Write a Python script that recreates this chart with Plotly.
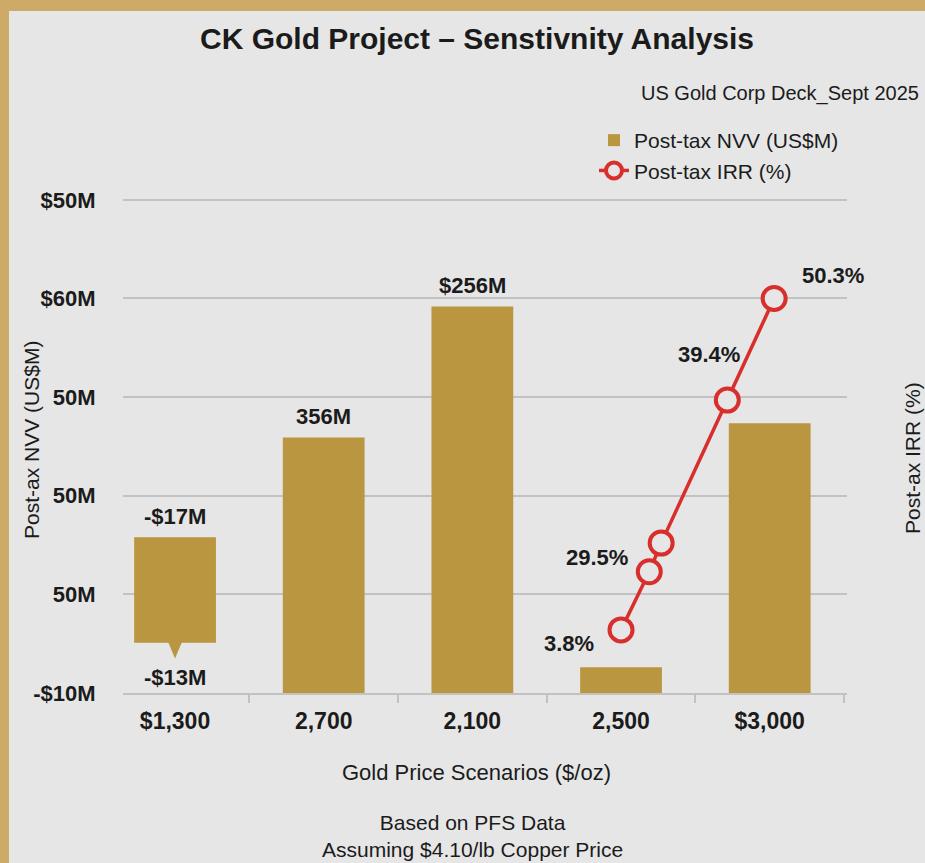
import plotly.graph_objects as go

# ---------------- data ----------------
categories = ["$1,300", "2,700", "2,100", "2,500", "$3,000"]
nvv_base = [5.1, 0.0, 0.0, 0.0, 0.0]
nvv_top = [15.8, 25.9, 39.2, 2.6, 27.35]
nvv_top_labels = ["-$17M", "356M", "$256M", "", ""]
nvv_bottom_labels = ["-$13M", "", "", "", ""]

irr_x = [3.0, 3.19, 3.27, 3.715, 4.03]
irr_y = [6.4, 12.3, 15.2, 29.7, 40.0]
irr_labels = ["3.8%", "29.5%", "", "39.4%", "50.3%"]

y_tickvals = [0, 10, 20, 30, 40, 50]
y_ticktext = ["-$10M", "50M", "50M", "50M", "$60M", "$50M"]

# ---------------- styles / layout ----------------
irr_label_offsets = [(-52, -14), (-52, 14), (0, 0), (-18, 46), (59, 23)]

GOLD_BORDER = "#CDAA67"
PANEL = "#E6E6E6"
BAR = "#B9963F"
RED = "#D82E2C"
TXT = "#1B1B1B"
GRID = "#C2C2C2"
FONT = "Liberation Sans, Arial, sans-serif"

W, H = 925, 863
L, R, T, B = 123, 78, 190, 170
PW, PH = W - L - R, H - T - B
XR = [-0.35, 4.52]
YR = [0, 51]


def px_x(px):
    return (px - L) / PW


def px_y(py):
    return (H - B - py) / PH


fig = go.Figure()

fig.add_trace(go.Bar(
    x=categories,
    y=[t - b for t, b in zip(nvv_top, nvv_base)],
    base=nvv_base,
    width=0.55,
    marker=dict(color=BAR, line=dict(width=0)),
    name="Post-tax NVV (US$M)",
    hoverinfo="skip",
))

# small callout pointer under the first (floating) bar
b0 = nvv_base[0]
fig.add_trace(go.Scatter(
    x=[-0.047, 0.047, 0.0, -0.047],
    y=[b0 + 0.1, b0 + 0.1, b0 - 1.6, b0 + 0.1],
    xaxis="x2", yaxis="y2",
    mode="lines", fill="toself", fillcolor=BAR,
    line=dict(width=0, color=BAR),
    showlegend=False, hoverinfo="skip",
))

fig.add_trace(go.Scatter(
    x=irr_x, y=irr_y,
    xaxis="x2", yaxis="y2",
    mode="lines+markers",
    line=dict(color=RED, width=3.5),
    marker=dict(symbol="circle", size=23, color=PANEL,
                line=dict(color=RED, width=4)),
    name="Post-tax IRR (%)",
    hoverinfo="skip",
))

annotations = []
for c, top, base, tl, bl in zip(categories, nvv_top, nvv_base,
                                nvv_top_labels, nvv_bottom_labels):
    if tl:
        annotations.append(dict(x=c, y=top, xref="x", yref="y", text=tl,
                                showarrow=False, xanchor="center", yanchor="middle", yshift=21,
                                font=dict(family=FONT, size=22, color=TXT, weight="bold")))
    if bl:
        annotations.append(dict(x=c, y=base, xref="x", yref="y", text=bl,
                                showarrow=False, xanchor="center", yanchor="middle", yshift=-35,
                                font=dict(family=FONT, size=22, color=TXT, weight="bold")))

for xv, yv, lab, (dx, dy) in zip(irr_x, irr_y, irr_labels, irr_label_offsets):
    if lab:
        annotations.append(dict(x=xv, y=yv, xref="x2", yref="y2", text=lab,
                                showarrow=False, xanchor="center", yanchor="middle",
                                xshift=dx, yshift=dy,
                                font=dict(family=FONT, size=22, color=TXT, weight="bold")))

# axis titles, subtitle, notes
annotations += [
    dict(x=px_x(31), y=px_y(440), xref="paper", yref="paper", text="Post-ax NVV (US$M)",
         textangle=-90, showarrow=False, xanchor="center", yanchor="middle",
         font=dict(family=FONT, size=21, color=TXT)),
    dict(x=px_x(913), y=px_y(458), xref="paper", yref="paper", text="Post-ax IRR (%)",
         textangle=-90, showarrow=False, xanchor="center", yanchor="middle",
         font=dict(family=FONT, size=21, color=TXT)),
    dict(x=px_x(476), y=px_y(772), xref="paper", yref="paper", text="Gold Price Scenarios ($/oz)",
         showarrow=False, xanchor="center", yanchor="middle",
         font=dict(family=FONT, size=22, color=TXT)),
    dict(x=px_x(472), y=px_y(836), xref="paper", yref="paper",
         text="Based on PFS Data<br>Assuming $4.10/lb Copper Price",
         showarrow=False, xanchor="center", yanchor="middle",
         font=dict(family=FONT, size=21, color=TXT)),
    dict(x=px_x(921), y=px_y(93), xref="paper", yref="paper", xanchor="right", yanchor="middle",
         text="US Gold Corp Deck_Sept 2025",
         showarrow=False, font=dict(family=FONT, size=20, color=TXT)),
]

shapes = [
    # gold frame: left and top strips
    dict(type="rect", xref="paper", yref="paper", layer="above",
         x0=px_x(-2), x1=px_x(9), y0=px_y(H + 2), y1=px_y(-2),
         fillcolor=GOLD_BORDER, line=dict(width=0)),
    dict(type="rect", xref="paper", yref="paper", layer="above",
         x0=px_x(-2), x1=px_x(W + 2), y0=px_y(11), y1=px_y(-2),
         fillcolor=GOLD_BORDER, line=dict(width=0)),
]

fig.update_layout(
    width=W, height=H,
    margin=dict(l=L, r=R, t=T, b=B, autoexpand=False),
    paper_bgcolor=PANEL, plot_bgcolor=PANEL,
    font=dict(family=FONT, color=TXT),
    title=dict(text="CK Gold Project \u2013 Senstivnity Analysis",
               x=477 / W, y=1 - 38 / H, xref="container", yref="container",
               xanchor="center", yanchor="middle",
               font=dict(family=FONT, size=30, color=TXT, weight="bold")),
    xaxis=dict(type="category", range=XR, tickson="boundaries",
               ticks="outside", ticklen=8, tickcolor=GRID, tickwidth=1.5,
               ticklabelstandoff=7,
               showline=True, linecolor=GRID, linewidth=1.5, showgrid=False,
               tickfont=dict(family=FONT, size=23, color=TXT, weight="bold"),
               fixedrange=True),
    xaxis2=dict(overlaying="x", range=XR, visible=False, fixedrange=True),
    yaxis=dict(range=YR, tickvals=y_tickvals, ticktext=y_ticktext,
               showgrid=True, gridcolor=GRID, gridwidth=1.5, zeroline=False,
               ticks="outside", ticklen=22, tickcolor="rgba(0,0,0,0)",
               tickfont=dict(family=FONT, size=22, color=TXT, weight="bold"),
               fixedrange=True),
    yaxis2=dict(overlaying="y", side="right", range=YR, visible=False, fixedrange=True),
    showlegend=True,
    legend=dict(x=px_x(594), y=px_y(120), xanchor="left", yanchor="top",
                bgcolor="rgba(0,0,0,0)", traceorder="normal",
                font=dict(family=FONT, size=21, color=TXT),
                itemclick=False, itemdoubleclick=False),
    annotations=annotations,
    shapes=shapes,
    bargap=0.45,
)

fig.write_html(
    "out.html",
    config={"displayModeBar": False},
    post_script="document.body.style.margin='0';document.body.style.overflow='hidden';",
)
